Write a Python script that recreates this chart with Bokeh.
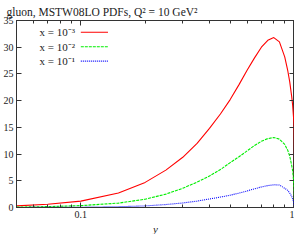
from bokeh.plotting import figure
from bokeh.models import LogAxis, LinearAxis, FixedTicker, Label, Range1d, Title
from bokeh.embed import file_html
from bokeh.resources import INLINE

# ---- data ----
yv = [0.05, 0.07, 0.1, 0.15, 0.2, 0.25, 0.3, 0.35, 0.4, 0.45, 0.5, 0.55, 0.6,
      0.65, 0.7, 0.75, 0.8, 0.85, 0.9, 0.93, 0.95, 0.97, 0.98, 0.99, 0.995,
      0.999, 1.0]
g_1e3 = [0.3, 0.6, 1.2, 2.7, 4.7, 7.0, 9.4, 12.0, 14.8, 17.5, 20.2, 23.0,
         25.7, 28.0, 30.0, 31.3, 31.8, 31.0, 28.2, 25.6, 23.5, 20.8, 19.2,
         16.8, 15.2, 10.0, 0.0]
g_1e2 = [0.08, 0.17, 0.35, 0.82, 1.55, 2.5, 3.6, 4.75, 5.9, 7.1, 8.4, 9.5,
         10.6, 11.6, 12.4, 12.9, 13.1, 12.8, 11.8, 10.7, 9.6, 7.9, 6.9, 5.0,
         3.6, 1.5, 0.0]
g_1e1 = [0.01, 0.02, 0.05, 0.15, 0.3, 0.55, 0.85, 1.2, 1.6, 1.95, 2.3, 2.7,
         3.1, 3.5, 3.85, 4.1, 4.25, 4.2, 3.6, 3.2, 2.7, 2.1, 1.6, 1.1, 0.6,
         0.2, 0.0]
series_labels = ["x = 10\u207b\u00b3", "x = 10\u207b\u00b2", "x = 10\u207b\u00b9"]
x_ticks = [0.1, 1]
x_tick_labels = ["0.1", "1"]
x_minor = [0.05, 0.06, 0.07, 0.08, 0.09, 0.2, 0.3, 0.4, 0.5, 0.6, 0.7, 0.8, 0.9]
y_ticks = [0, 5, 10, 15, 20, 25, 30, 35]
title_text = "gluon, MSTW08LO PDFs, Q\u00b2 = 10 GeV\u00b2"
x_axis_title = "y"

# ---- styling / layout ----
FONT = "Liberation Serif"
colors = ["#ff0000", "#00ee00", "#0000ff"]
dashes = ["solid", "3 1", "1 1"]
leg_y = [32.8, 30.1, 27.4]          # legend rows (layout positions)
leg_text_x = 0.094
leg_line_x = [0.1, 0.134]

p = figure(width=294, height=234, x_axis_type="log",
           x_range=Range1d(0.05, 1.0), y_range=Range1d(0, 35),
           output_backend="svg", toolbar_location=None,
           x_axis_location=None, y_axis_location=None,
           min_border_left=0, min_border_right=0, min_border_top=0,
           min_border_bottom=0)
p.grid.visible = False
p.outline_line_color = "#333333"
p.background_fill_color = "white"
p.border_fill_color = "white"

p.title.text = title_text
p.title.text_font = FONT
p.title.text_font_size = "11.5px"
p.title.text_font_style = "normal"
p.title.text_color = "#222222"
p.title.offset = -10
p.title.standoff = 6

def style_axis(ax, labels=True):
    ax.major_tick_in = 5
    ax.major_tick_out = 0
    ax.minor_tick_in = 3
    ax.minor_tick_out = 0
    ax.axis_line_color = "#333333"
    ax.major_tick_line_color = "#333333"
    ax.minor_tick_line_color = "#333333"
    ax.major_label_text_font = FONT
    ax.major_label_text_font_size = "10px"
    ax.major_label_text_color = "#222222"
    ax.major_label_standoff = 3
    if not labels:
        ax.major_label_text_color = None
        ax.major_label_text_font_size = "1px"
        ax.major_label_standoff = 0

xt = FixedTicker(ticks=x_ticks, minor_ticks=x_minor)
yt = FixedTicker(ticks=y_ticks, minor_ticks=[])

bottom = LogAxis(ticker=xt)
style_axis(bottom)
bottom.major_label_overrides = dict(zip(x_ticks, x_tick_labels))
bottom.major_label_standoff = 3
p.add_layout(bottom, "below")

xlab = Title(text=x_axis_title, align="center", text_font=FONT,
             text_font_style="italic", text_font_size="11px",
             text_color="#222222", standoff=0, offset=0)
p.add_layout(xlab, "below")

top = LogAxis(ticker=xt)
style_axis(top, labels=False)
p.add_layout(top, "above")

left = LinearAxis(ticker=yt)
style_axis(left)
p.add_layout(left, "left")

right = LinearAxis(ticker=yt)
style_axis(right, labels=False)
p.add_layout(right, "right")

for vals, c, d, lab, ly in zip([g_1e3, g_1e2, g_1e1], colors, dashes,
                               series_labels, leg_y):
    p.line(yv, vals, line_color=c, line_dash=d, line_width=1.1)
    p.line(leg_line_x, [ly, ly], line_color=c, line_dash=d, line_width=1.1)
    p.add_layout(Label(x=leg_text_x, y=ly, text=lab, text_align="right",
                       text_baseline="middle", text_font=FONT,
                       text_font_size="11px", text_color="#222222"))

open("out.html", "w").write(file_html(p, INLINE))
